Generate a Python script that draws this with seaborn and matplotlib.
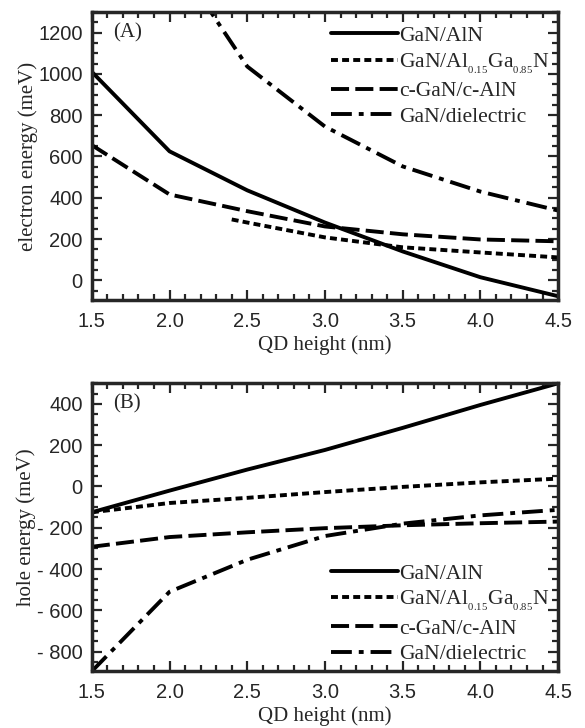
import numpy as np
import pandas as pd
import matplotlib
matplotlib.use('Agg')
import matplotlib.pyplot as plt
import seaborn as sns
from matplotlib.ticker import MultipleLocator, FuncFormatter

# QD height (nm)
heights         = [1.5, 2.0, 2.5, 3.0, 3.5, 4.0, 4.5]
heights_algan   = [2.4, 2.5, 3.0, 3.5, 4.0, 4.5]

# (A) electron energy (meV)
e_gan_aln       = [1010, 625, 436, 280, 140, 15, -77]
e_gan_algan     = [295, 280, 208, 160, 135, 111]
e_cgan_caln     = [655, 416, 335, 261, 223, 198, 189]
e_gan_diel      = [2400, 1600, 1036, 745, 552, 430, 338]

# (B) hole energy (meV)
h_gan_aln       = [-125, -20, 82, 177, 284, 395, 500]
h_gan_algan     = [-125, -80, -55, -27, -2, 20, 38]
h_cgan_caln     = [-292, -245, -222, -202, -188, -178, -170]
h_gan_diel      = [-895, -510, -355, -240, -180, -140, -113]

labels = ['GaN/AlN', r'GaN/Al$_{_{0.15}}$Ga$_{_{0.85}}$N', 'c-GaN/c-AlN', 'GaN/dielectric']

sns.set_theme(style='ticks')
plt.rcParams['font.family']         = ['Liberation Sans', 'DejaVu Sans']
plt.rcParams['mathtext.fontset']    = 'custom'
plt.rcParams['mathtext.rm']         = 'Liberation Serif'
plt.rcParams['lines.scale_dashes']  = False

styles = ['-', (0, (5, 3)), (0, (13, 4.5)), (0, (15, 5, 3.5, 5))]
serif  = ['Liberation Serif', 'DejaVu Serif']

fig = plt.figure(figsize=(5.85, 7.28), dpi=100)
ax_a = fig.add_axes([0.157, 0.588, 0.797, 0.3955])
ax_b = fig.add_axes([0.157, 0.078, 0.797, 0.3955])

def yfmt(v, pos):
    v = int(round(v))
    return f'- {abs(v)}' if v < 0 else f'{v}'

def draw(ax, series, ylim, ylabel, tag, legend_loc, anchor):
    for (xs, ys), lab, ls in zip(series, labels, styles):
        sns.lineplot(x=xs, y=ys, ax=ax, color='black', lw=2.8, linestyle=ls, label=lab)
    ax.set_xlim(1.5, 4.5)
    ax.set_ylim(*ylim)
    ax.xaxis.set_major_locator(MultipleLocator(0.5))
    ax.xaxis.set_minor_locator(MultipleLocator(0.1))
    ax.yaxis.set_major_locator(MultipleLocator(200))
    ax.yaxis.set_minor_locator(MultipleLocator(50))
    ax.xaxis.set_major_formatter(FuncFormatter(lambda v, p: f'{v:.1f}'))
    ax.yaxis.set_major_formatter(FuncFormatter(yfmt))
    ax.tick_params(which='both', direction='in', top=True, right=True, width=1.6, labelsize=14.5)
    ax.tick_params(which='major', length=7)
    ax.tick_params(which='minor', length=4)
    ax.tick_params(axis='x', pad=8.5)
    ax.tick_params(axis='y', pad=6.5)
    for s in ax.spines.values():
        s.set_linewidth(2.5)
    ax.set_xlabel('QD height (nm)', family=serif, fontsize=15, labelpad=3)
    ax.set_ylabel(ylabel, family=serif, fontsize=15, labelpad=0.5)
    ax.text(0.045, 0.927, tag, transform=ax.transAxes, family=serif, fontsize=15, va='center')
    ax.legend(loc=legend_loc, bbox_to_anchor=anchor, frameon=False, prop={'family': serif, 'size': 15.6},
              handlelength=3.1, handletextpad=0.05, labelspacing=0.25, borderpad=0, borderaxespad=0)

draw(ax_a,
     [(heights, e_gan_aln), (heights_algan, e_gan_algan), (heights, e_cgan_caln), (heights, e_gan_diel)],
     (-95, 1300), 'electron energy (meV)', '(A)', 'upper right', (0.982, 0.952))
draw(ax_b,
     [(heights, h_gan_aln), (heights, h_gan_algan), (heights, h_cgan_caln), (heights, h_gan_diel)],
     (-895, 500), 'hole energy (meV)', '(B)', 'lower right', (0.982, 0.024))

fig.align_ylabels([ax_a, ax_b])
fig.savefig('out.png', dpi=100)
